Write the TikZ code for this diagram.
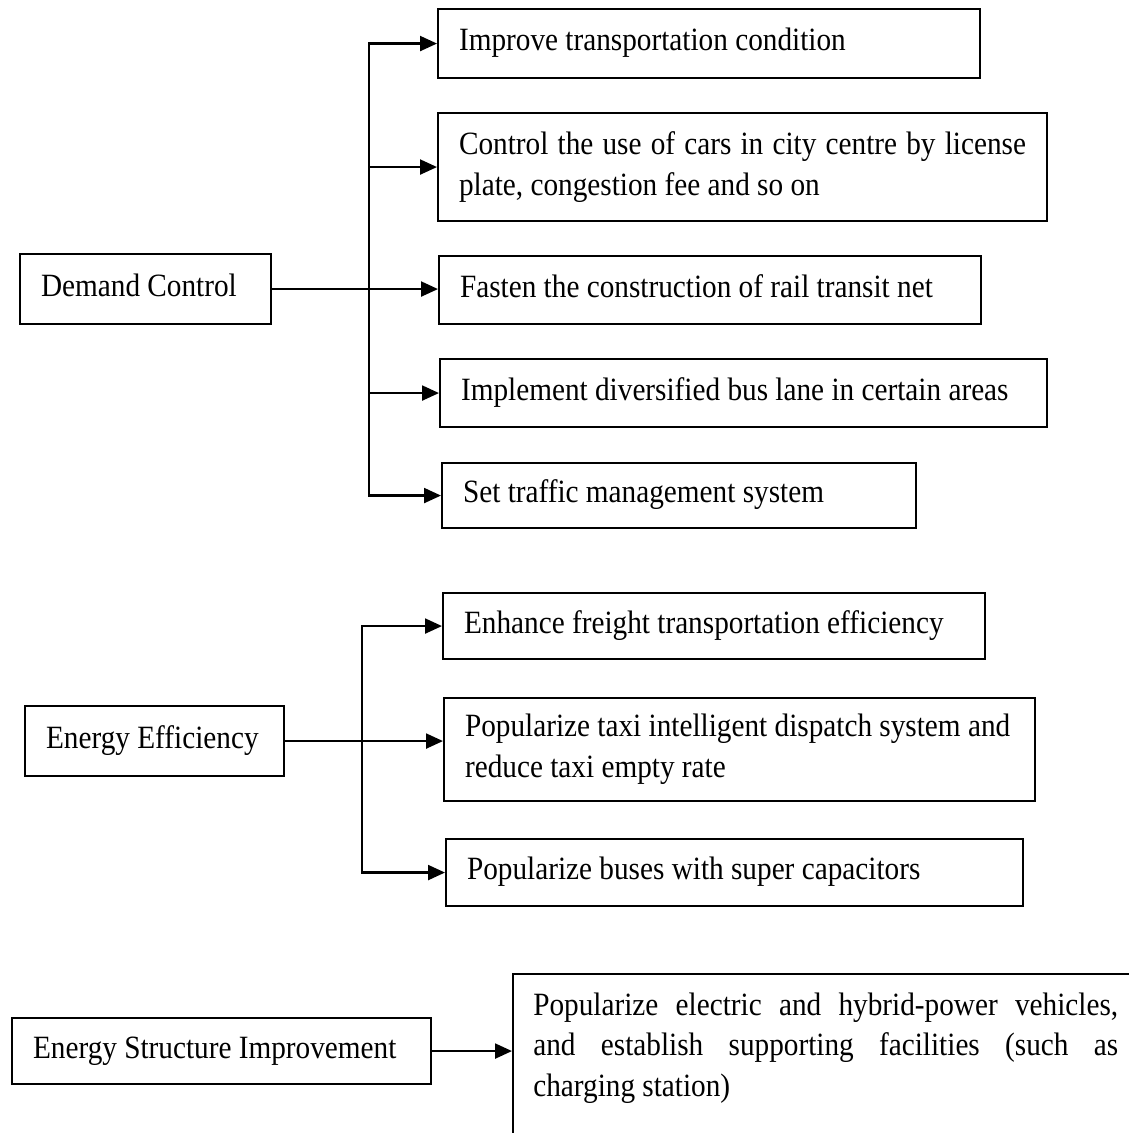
\documentclass[tikz,border=0pt]{standalone}
\usepackage{fontspec}
\setmainfont{Liberation Serif}[FakeStretch=0.9]
\usetikzlibrary{arrows.meta}
\begin{document}
\begin{tikzpicture}[x=0.02cm,y=-0.02cm,
  every node/.style={font=\fontsize{18.5}{23.2}\selectfont},
  box/.style={draw, line width=1.2pt, anchor=north west, inner xsep=0.42cm, inner ysep=0pt, align=flush left},
  one/.style={text height=12.5pt, text depth=4.5pt},
  conn/.style={line width=1.25pt},
  arr/.style={conn, -{Triangle[length=0.34cm,width=0.30cm]}},
  darr/.style={conn, {Triangle[length=0.34cm,width=0.30cm]}-{Triangle[length=0.34cm,width=0.30cm]}}]
\useasboundingbox (0,0) rectangle (1129,1133);
\clip (0,0) rectangle (1129,1133);
% Demand control
\node[box,one,text width=4.18cm,minimum height=1.40cm] (dc) at (19,253) {\mbox{Demand Control}};
\node[box,one,text width=10.00cm,minimum height=1.38cm] (b1) at (437,8) {\mbox{Improve transportation condition}};
\node[box,text width=11.34cm,minimum height=2.16cm] (b2) at (437,112) {\makebox[11.34cm][l]{Control\hfill the\hfill use\hfill of\hfill cars\hfill in\hfill city\hfill centre\hfill by\hfill license}\\\mbox{plate, congestion fee and so on}};
\node[box,one,text width=10.00cm,minimum height=1.36cm] (b3) at (438,255) {\mbox{Fasten the construction of rail transit net}};
\node[box,one,text width=11.30cm,minimum height=1.36cm] (b4) at (439,358) {\mbox{Implement diversified bus lane in certain areas}};
\node[box,one,text width=8.64cm,minimum height=1.30cm] (b5) at (441,462) {\mbox{Set traffic management system}};
\coordinate (t1) at (369,0);
\draw[darr] (b1.west) -- (t1 |- b1.west) -- (t1 |- b5.west) -- (b5.west);
\draw[arr] (t1 |- b2.west) -- (b2.west);
\draw[arr] (t1 |- b4.west) -- (b4.west);
\draw[arr] (dc.east) -- (dc.east -| b3.west);
% Energy efficiency
\node[box,one,text width=4.34cm,minimum height=1.40cm] (ee) at (24,705) {\mbox{Energy Efficiency}};
\node[box,one,text width=10.00cm,minimum height=1.32cm] (e1) at (442,592) {\mbox{Enhance freight transportation efficiency}};
\node[box,text width=10.98cm,minimum height=2.06cm] (e2) at (443,697) {\mbox{Popularize taxi intelligent dispatch system and}\\\mbox{reduce taxi empty rate}};
\node[box,one,text width=10.70cm,minimum height=1.34cm] (e3) at (445,838) {\mbox{Popularize buses with super capacitors}};
\coordinate (t2) at (362,0);
\draw[darr] (e1.west) -- (t2 |- e1.west) -- (t2 |- e3.west) -- (e3.west);
\draw[arr] (ee.east) -- (ee.east -| e2.west);
% Energy structure
\node[box,one,text width=7.54cm,minimum height=1.32cm] (es) at (11,1017) {\mbox{Energy Structure Improvement}};
\node[draw, line width=1.2pt, anchor=north west, inner sep=0pt, minimum width=12.96cm, minimum height=3.74cm] (big) at (512,973) {};
\node[anchor=base west, inner sep=0pt, text width=11.7cm, align=flush left] (bigtext) at (533,1015) {\makebox[11.7cm][l]{Popularize\hfill electric\hfill and\hfill hybrid-power\hfill vehicles,}\\\makebox[11.7cm][l]{and\hfill establish\hfill supporting\hfill facilities\hfill (such\hfill as}\\charging station)};
\draw[arr] (es.east) -- (es.east -| big.west);
\end{tikzpicture}
\end{document}
